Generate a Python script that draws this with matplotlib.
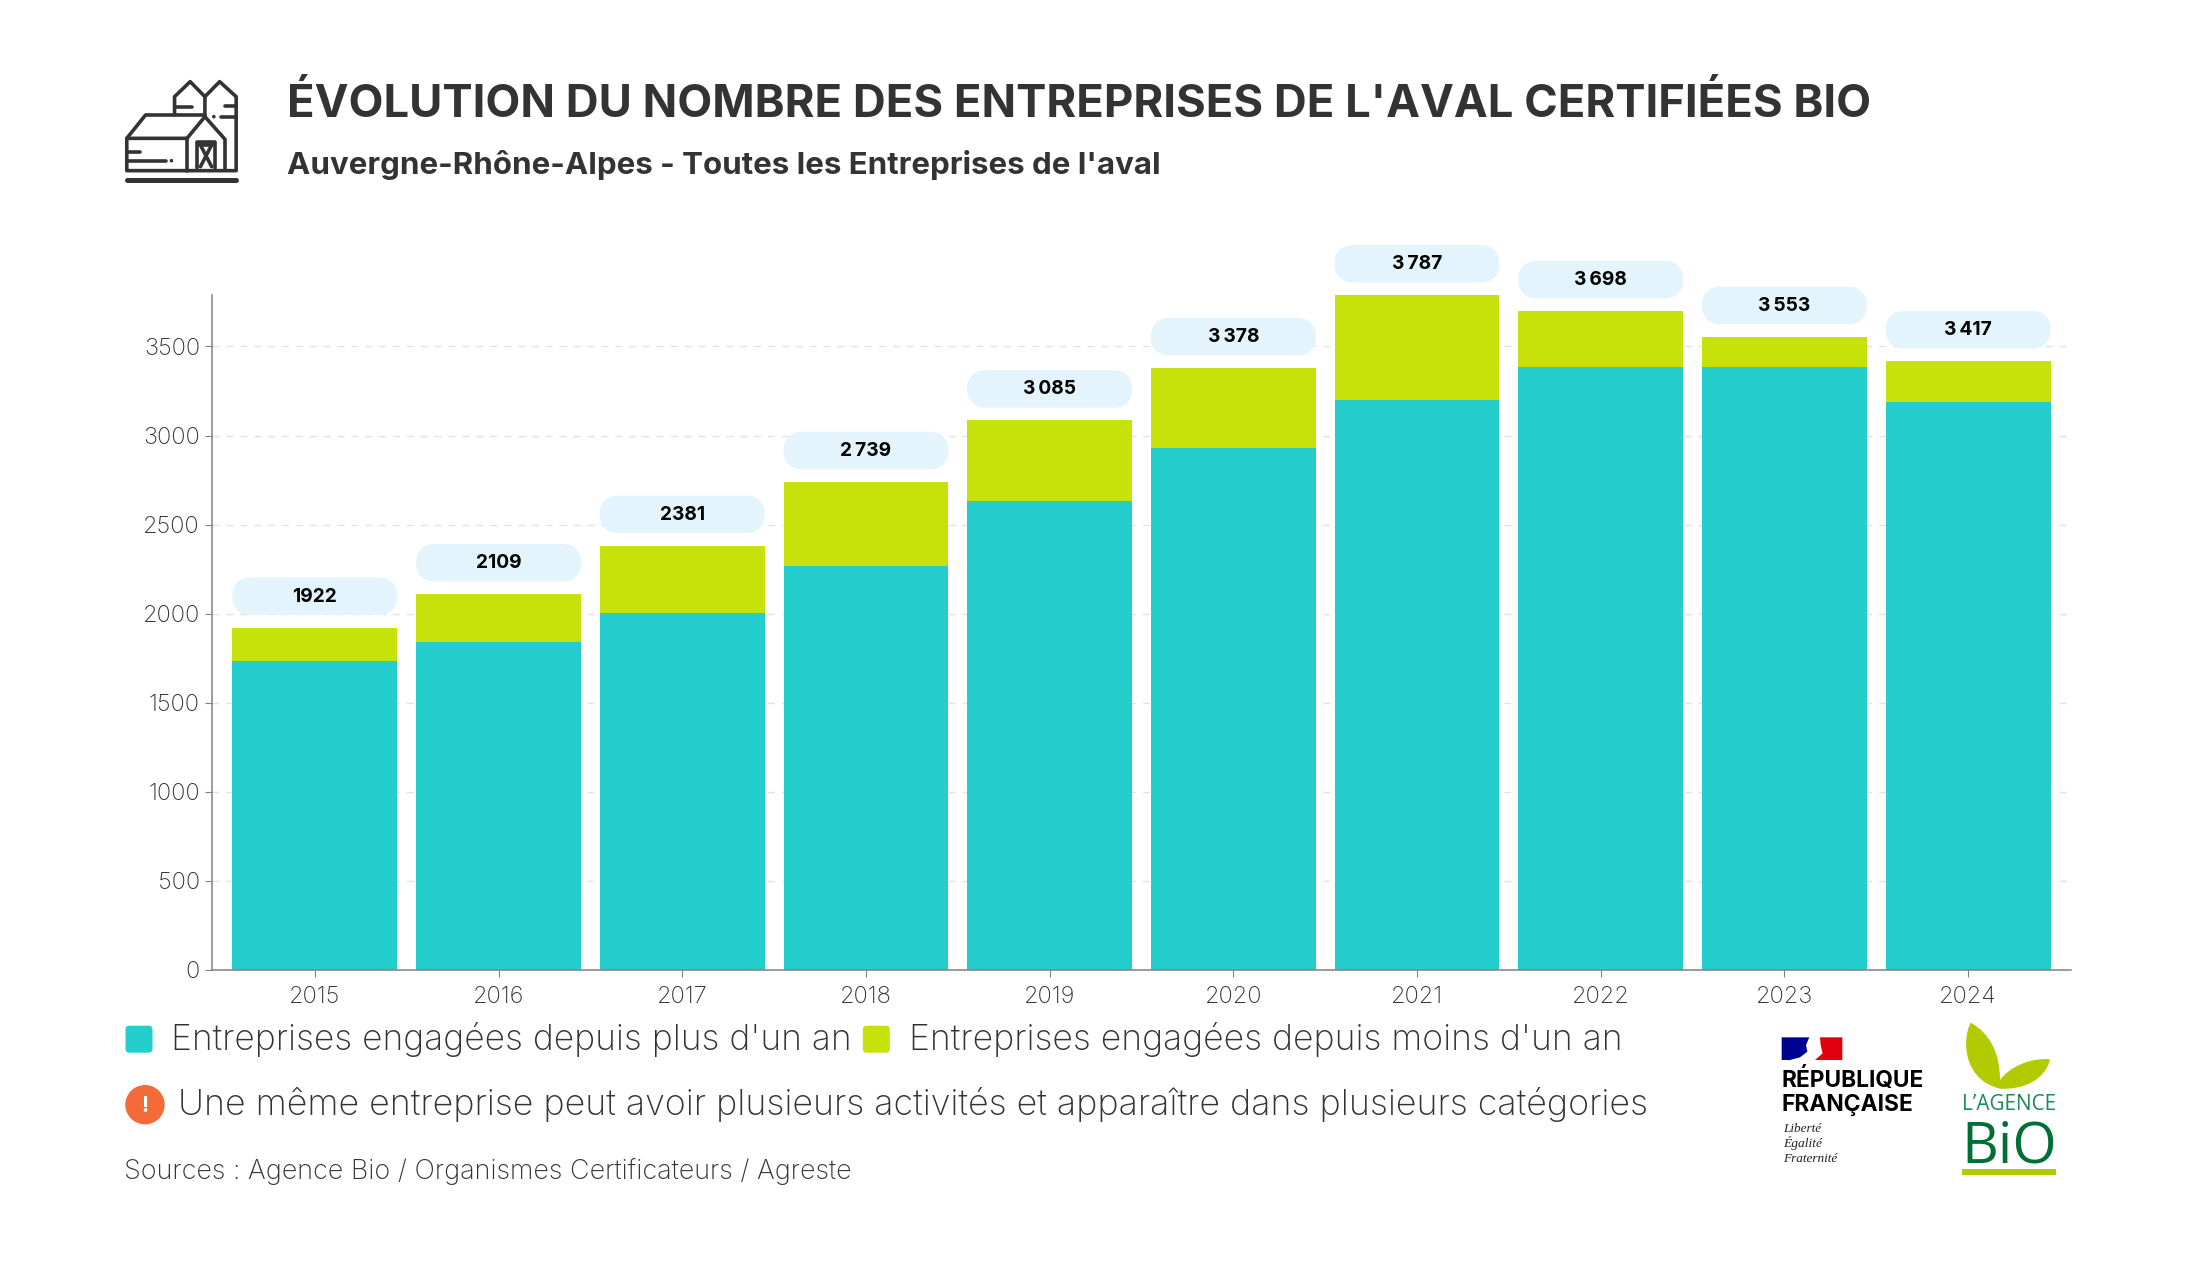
import matplotlib
matplotlib.use("Agg")
import matplotlib.pyplot as plt
from matplotlib import font_manager as fm
from matplotlib.patches import Rectangle, Circle, PathPatch, Polygon
from matplotlib.path import Path

years = ["2015", "2016", "2017", "2018", "2019", "2020", "2021", "2022", "2023", "2024"]
old_firms = [1737, 1843, 2004, 2267, 2633, 2928, 3201, 3384, 3382, 3188]
new_firms = [185, 266, 377, 472, 452, 450, 586, 314, 171, 229]
total_labels = ["1922", "2109", "2381", "2\u2009739", "3\u2009085", "3\u2009378",
                "3\u2009787", "3\u2009698", "3\u2009553", "3\u2009417"]
y_ticks = [0, 500, 1000, 1500, 2000, 2500, 3000, 3500]

TEAL = "#23CECD"
LIME = "#C7E20A"
DARK = "#333333"
FONT = "Inter"
W, H = 2197, 1267

plt.rcParams["font.family"] = [FONT, "DejaVu Sans"]
fig = plt.figure(figsize=(W / 100, H / 100), dpi=100, facecolor="white")

installed = {f.name for f in fm.fontManager.ttflist}
NARROW = "Liberation Sans Narrow" if "Liberation Sans Narrow" in installed else "Open Sans"

# ---- chart ----
L, R, T, B = 212, 2071, 295.3, 970.0
ax = fig.add_axes([L / W, 1 - B / H, (R - L) / W, (B - T) / H])
xs = list(range(len(years)))
ax.bar(xs, old_firms, width=0.897, color=TEAL, label="Entreprises engagées depuis plus d'un an")
ax.bar(xs, new_firms, width=0.897, bottom=old_firms, color=LIME, label="Entreprises engagées depuis moins d'un an")
ax.set_xlim(-0.56, 9.56)
ax.set_ylim(0, 3787)
ax.set_xticks(xs, years)
ax.set_yticks(y_ticks, [str(v) for v in y_ticks])
ax.set_axisbelow(True)
ax.grid(axis="y", color="#E2E2E2", linewidth=1, linestyle=(0, (5, 5)))
for s in ("top", "right"):
    ax.spines[s].set_visible(False)
for s in ("left", "bottom"):
    ax.spines[s].set_color("#808080")
    ax.spines[s].set_linewidth(1.1)
ax.tick_params(axis="both", length=4.7, width=0.8, color="#808080", labelcolor=DARK, labelsize=17)
ax.tick_params(axis="x", pad=6.5)
ax.tick_params(axis="y", pad=4)
for lab in ax.get_xticklabels() + ax.get_yticklabels():
    lab.set_fontweight("light")

# ---- overlay in pixel coordinates ----
ov = fig.add_axes([0, 0, 1, 1], zorder=5)
ov.set_xlim(0, W)
ov.set_ylim(H, 0)
ov.axis("off")
ov.patch.set_alpha(0)
renderer = fig.canvas.get_renderer()


def fit(x, base, s, x_end, size=20, **kw):
    """Text with its left edge at x and baseline at base, sized to end at x_end."""
    kw.setdefault("color", DARK)
    t = ov.text(x, base, s, fontsize=size, ha="left", va="baseline", **kw)
    w = t.get_window_extent(renderer).width
    t.set_fontsize(size * (x_end - x) / w)
    return t


def rounded(x0, y0, x1, y1, r, color):
    """Rounded rectangle with true circular corners."""
    k = r * (1 - 0.5523)
    v = [(x0 + r, y0), (x1 - r, y0),
         (x1 - k, y0), (x1, y0 + k), (x1, y0 + r), (x1, y1 - r),
         (x1, y1 - k), (x1 - k, y1), (x1 - r, y1), (x0 + r, y1),
         (x0 + k, y1), (x0, y1 - k), (x0, y1 - r), (x0, y0 + r),
         (x0, y0 + k), (x0 + k, y0), (x0 + r, y0)]
    c = [Path.MOVETO, Path.LINETO,
         Path.CURVE4, Path.CURVE4, Path.CURVE4, Path.LINETO,
         Path.CURVE4, Path.CURVE4, Path.CURVE4, Path.LINETO,
         Path.CURVE4, Path.CURVE4, Path.CURVE4, Path.LINETO,
         Path.CURVE4, Path.CURVE4, Path.CURVE4]
    ov.add_patch(PathPatch(Path(v, c), fc=color, ec="none", lw=0))


# pills with the totals
for i, lab in enumerate(total_labels):
    total = old_firms[i] + new_firms[i]
    dl = ax.transData.transform((i - 0.897 / 2, total))
    dr = ax.transData.transform((i + 0.897 / 2, total))
    top_bar = H - dl[1]
    pill_h = 37.5
    y0 = top_bar - 12.7 - pill_h
    rounded(dl[0], y0, dr[0], y0 + pill_h, 17, "#E4F4FC")
    ov.text((dl[0] + dr[0]) / 2, y0 + pill_h / 2 + 5.5, lab, ha="center", va="baseline",
            fontsize=13.8, fontweight="bold", color="black")

# title
fit(287.2, 116.7, "ÉVOLUTION DU NOMBRE DES ENTREPRISES DE L'AVAL CERTIFIÉES BIO", 1872, fontweight="bold")
fit(287, 174, "Auvergne-Rhône-Alpes - Toutes les Entreprises de l'aval", 1161, fontweight="bold")

# legend and notes
rounded(125.5, 1025.7, 152.5, 1052.7, 3.5, TEAL)
rounded(862.8, 1025.7, 889.8, 1052.7, 3.5, LIME)
fit(171, 1049.8, "Entreprises engagées depuis plus d'un an", 848.5, fontweight="light")
fit(909, 1049.8, "Entreprises engagées depuis moins d'un an", 1620, fontweight="light")
ov.add_patch(Circle((145, 1104.7), 19.7, fc="#F26B38", ec="none"))
ov.text(145, 1112, "!", color="white", fontsize=15, fontweight="bold", ha="center", va="baseline")
fit(177.5, 1115, "Une même entreprise peut avoir plusieurs activités et apparaître dans plusieurs catégories", 1643, fontweight="light")
fit(124, 1179.3, "Sources : Agence Bio / Organismes Certificateurs / Agreste", 851, fontweight="light")


# barn icon (points in crop coordinates)
def ic(p):
    return (100 + p[0] / 2.24, 50 + p[1] / 3)


icon_lines = [
    [(167, 190), (167, 140), (202, 95), (235, 140), (235, 200)],
    [(235, 140), (268, 95), (305, 140), (305, 362), (60, 362), (60, 265), (102, 195), (235, 195)],
    [(60, 265), (195, 265), (235, 200), (280, 268), (280, 355)],
    [(195, 265), (195, 362)],
    [(218, 355), (218, 275), (257, 275), (257, 355)],
    [(225, 285), (250, 350)], [(250, 285), (225, 350)], [(225, 285), (250, 285)],
    [(167, 172), (205, 172)], [(280, 168), (305, 168)], [(272, 200), (305, 200)],
    [(60, 305), (90, 305)], [(60, 332), (148, 332)],
]
for line in icon_lines:
    ov.plot(*zip(*[ic(p) for p in line]), color=DARK, lw=2.6, solid_capstyle="round", solid_joinstyle="round")
ov.plot(*zip(ic((60, 390)), ic((305, 390))), color=DARK, lw=3.6, solid_capstyle="round")
for p in [(255, 200), (160, 332)]:
    ov.add_patch(Circle(ic(p), 1.8, fc=DARK, ec="none"))


# logos (points in crop coordinates)
def lg(p):
    return (1700 + p[0] / 3, 1000 + p[1] / 3)


ov.add_patch(Polygon([lg(p) for p in [(245, 112), (328, 112), (318, 135), (322, 155), (300, 172), (270, 180), (245, 180)]], fc="#000091", ec="none"))
ov.add_patch(Polygon([lg(p) for p in [(360, 112), (427, 112), (427, 180), (345, 180), (368, 160), (362, 135)]], fc="#E1000F", ec="none"))
rf = dict(color="black", fontweight="bold")
fit(1700 + 245 / 3, 1000 + 262 / 3, "RÉPUBLIQUE", 1700 + 672 / 3, **rf)
fit(1700 + 245 / 3, 1000 + 332 / 3, "FRANÇAISE", 1700 + 640 / 3, **rf)
it = dict(color="#222222", family=["Liberation Serif"], style="italic")
fit(1700 + 248 / 3, 1000 + 395 / 3, "Liberté", 1700 + 363 / 3, **it)
fit(1700 + 248 / 3, 1000 + 440 / 3, "Égalité", 1700 + 365 / 3, **it)
fit(1700 + 248 / 3, 1000 + 485 / 3, "Fraternité", 1700 + 412 / 3, **it)

leaf_pts = [(812, 68), (785, 120), (790, 240), (900, 266),
            (970, 270), (1035, 240), (1050, 178),
            (985, 172), (925, 205), (900, 240),
            (900, 160), (870, 100), (812, 68)]
leaf_codes = [Path.MOVETO] + [Path.CURVE4] * 12
ov.add_patch(PathPatch(Path([lg(p) for p in leaf_pts], leaf_codes), fc="#B1CB00", ec="none"))
fit(1700 + 785 / 3, 1000 + 330 / 3, "L\u2019AGENCE", 1700 + 1068 / 3, color="#1F8A55", family=[NARROW])
fit(1700 + 783 / 3, 1000 + 487 / 3, "BiO", 1700 + 1070 / 3, color="#006F36", family=[NARROW])
ov.add_patch(Rectangle(lg((785, 507)), 283 / 3, 17 / 3, fc="#B1CB00", ec="none"))

fig.savefig("out.png", dpi=100, facecolor="white")
